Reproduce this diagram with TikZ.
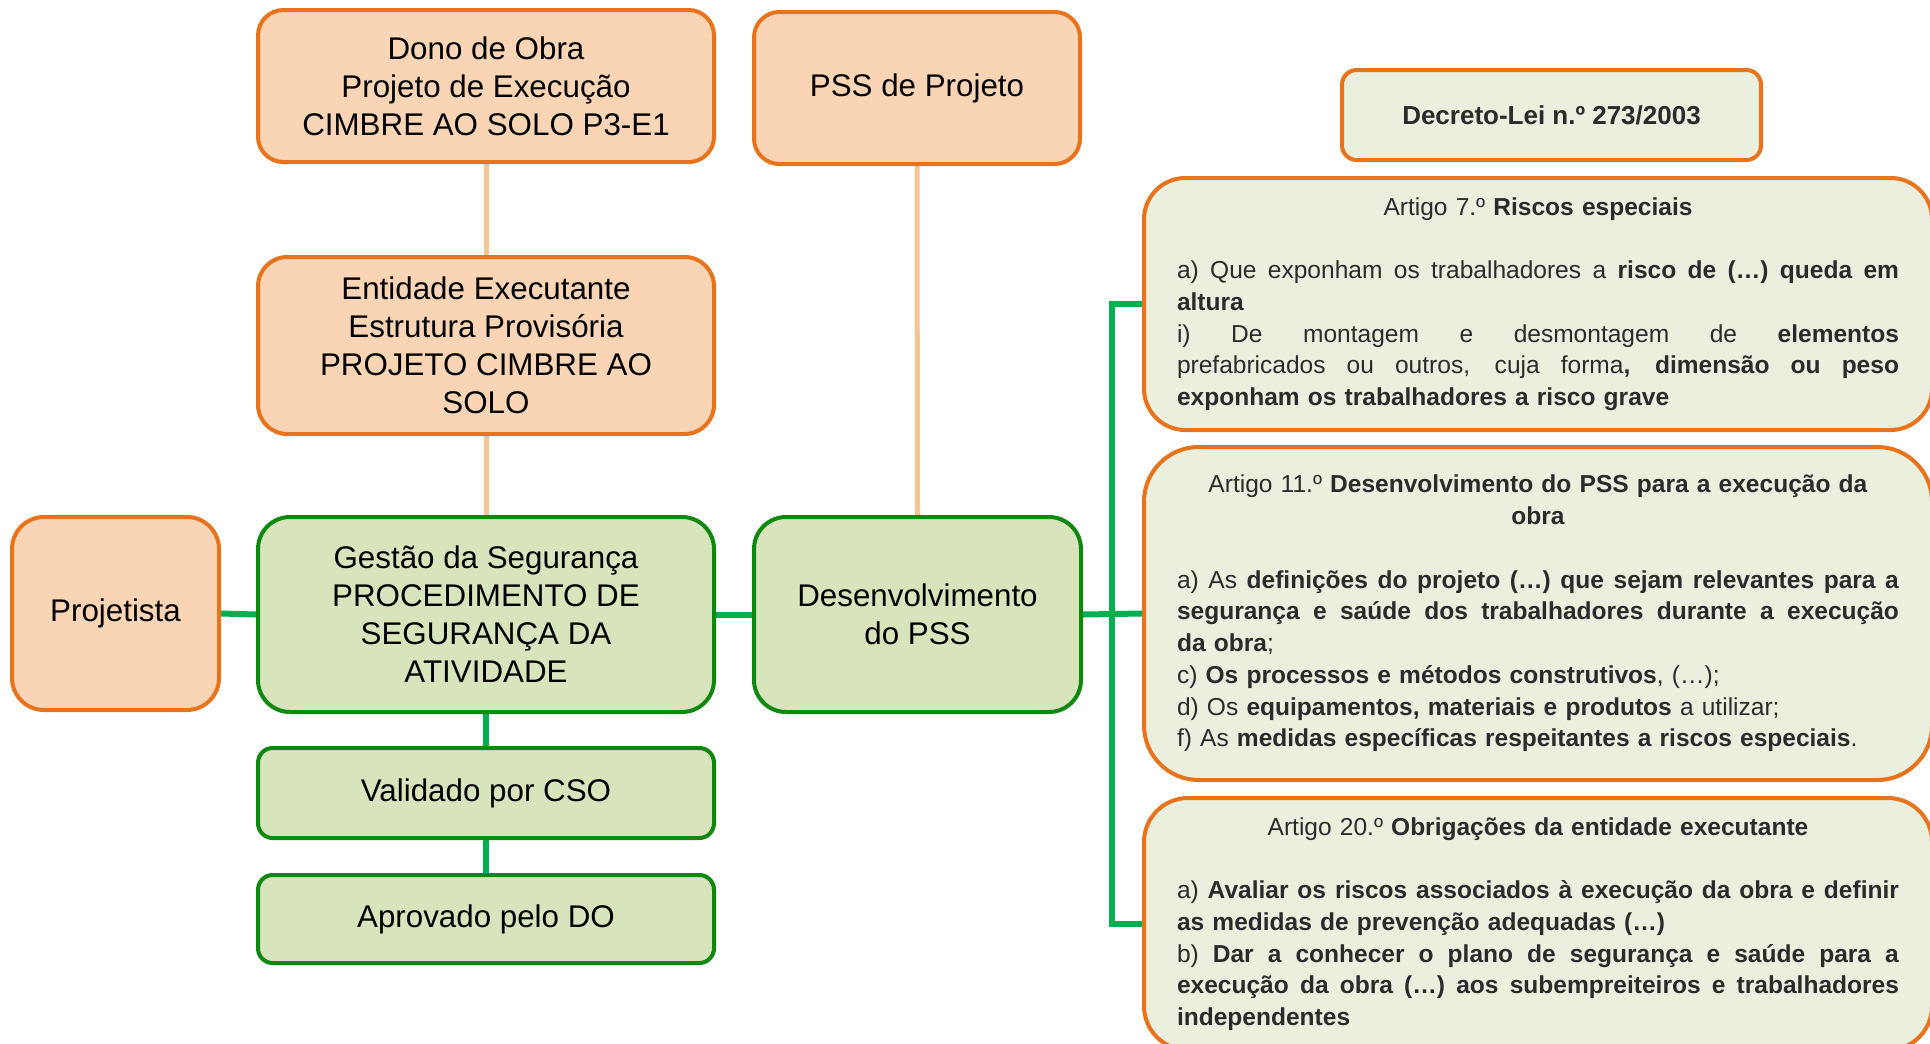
\documentclass[tikz,border=0pt]{standalone}
\usepackage{fontspec}
\setmainfont{Liberation Sans}
\usetikzlibrary{backgrounds}
\newlength\artw
\setlength\artw{541.5pt}
\newcommand\jfull[1]{\leavevmode\hbox to\artw{\spaceskip=0.28em plus 1fil\xspaceskip=0.28em plus 1fil\relax #1}}
\newcommand\cfull[1]{\leavevmode\hbox to\artw{\hfil #1\hfil}}
\definecolor{peach}{HTML}{FAD5B5}
\definecolor{orangeline}{HTML}{E8731A}
\definecolor{oconn}{HTML}{F9C495}
\definecolor{gfill}{HTML}{D8E4BC}
\definecolor{gborder}{HTML}{0E880E}
\definecolor{gconn}{HTML}{00B050}
\definecolor{afill}{HTML}{EBF0DE}
\definecolor{atext}{HTML}{2B2B2B}
\tikzset{
  mainfont/.style={font=\fontsize{23.5pt}{28.5pt}\selectfont, align=center, text=black},
  peachbox/.style={mainfont, draw=orangeline, fill=peach, line width=3pt, inner sep=0pt},
  greenbox/.style={mainfont, draw=gborder, fill=gfill, line width=3pt, inner sep=0pt},
  artbox/.style={draw=orangeline, fill=afill, line width=3pt, text width=\artw, inner xsep=24.75pt,
    align=left, text=atext, font=\fontsize{18.4pt}{23.8pt}\selectfont},
  oline/.style={draw=oconn, line width=3.75pt},
  gline/.style={draw=gconn, line width=4.5pt},
}
\begin{document}
\begin{tikzpicture}[x=0.75pt,y=-0.75pt]
\clip (0,0) rectangle (1930,1043);

\node[peachbox, minimum width=342pt, minimum height=114pt, rounded corners=19pt] (dono) at (486,86)
  {Dono de Obra\\Projeto de Execução\\CIMBRE AO SOLO P3-E1};
\node[peachbox, minimum width=244.5pt, minimum height=114pt, rounded corners=19pt] (pssproj) at (917,88)
  {PSS de Projeto};
\node[peachbox, minimum width=342pt, minimum height=132.75pt, rounded corners=22pt] (entidade) at (486,345.5)
  {Entidade Executante\\Estrutura Provisória\\PROJETO CIMBRE AO\\SOLO};
\node[peachbox, minimum width=155.25pt, minimum height=144.75pt, rounded corners=24pt] (projetista) at (115.5,613.5)
  {Projetista};
\node[greenbox, minimum width=342pt, minimum height=146.25pt, rounded corners=24pt] (gestao) at (486,614.5)
  {Gestão da Segurança\\PROCEDIMENTO DE\\SEGURANÇA DA\\ATIVIDADE};
\node[greenbox, minimum width=245.25pt, minimum height=146.25pt, rounded corners=24pt] (desenv) at (917.5,614.5)
  {Desenvolvimento\\do PSS};
\node[greenbox, minimum width=342pt, minimum height=67.5pt, rounded corners=11pt] (validado) at (486,793)
  {Validado por CSO};
\node[greenbox, minimum width=342pt, minimum height=66pt, rounded corners=11pt] (aprovado) at (486,919)
  {Aprovado pelo DO};

\node[draw=orangeline, fill=afill, line width=3pt, rounded corners=11pt, minimum width=314.25pt,
  minimum height=67.5pt, text=atext, font=\fontsize{19.5pt}{23.8pt}\selectfont\bfseries] (decreto) at (1551.5,115)
  {Decreto-Lei n.º 273/2003};

\node[artbox, minimum height=189pt, rounded corners=31pt] (art7) at (1538,304)
  {\cfull{Artigo 7.º \textbf{Riscos especiais}}\\[23.8pt]
   \jfull{a) Que exponham os trabalhadores a \textbf{risco de (…) queda em}}\\
   \textbf{altura}\\
   \jfull{i) De montagem e desmontagem de \textbf{elementos}}\\
   \jfull{prefabricados ou outros, cuja forma\textbf{, dimensão ou peso}}\\
   \textbf{exponham os trabalhadores a risco grave}};

\node[artbox, minimum height=249.75pt, rounded corners=41pt] (art11) at (1538,613.5)
  {\cfull{Artigo 11.º \textbf{Desenvolvimento do PSS para a execução da}}\\
   \cfull{\textbf{obra}}\\[23.8pt]
   \jfull{a) As \textbf{definições do projeto (…) que sejam relevantes para a}}\\
   \jfull{\textbf{segurança e saúde dos trabalhadores durante a execução}}\\
   \textbf{da obra};\\
   c) \textbf{Os processos e métodos construtivos}, (…);\\
   d) Os \textbf{equipamentos, materiais e produtos} a utilizar;\\
   f) As \textbf{medidas específicas respeitantes a riscos especiais}.};

\node[artbox, minimum height=189pt, rounded corners=33pt] (art20) at (1538,924)
  {\cfull{Artigo 20.º \textbf{Obrigações da entidade executante}}\\[23.8pt]
   \jfull{a) \textbf{Avaliar os riscos associados à execução da obra e definir}}\\
   \textbf{as medidas de prevenção adequadas (…)}\\
   \jfull{b) \textbf{Dar a conhecer o plano de segurança e saúde para a}}\\
   \jfull{\textbf{execução da obra (…) aos subempreiteiros e trabalhadores}}\\
   \textbf{independentes}};

\coordinate (spine) at (1112,614.5);

\begin{scope}[on background layer]
\fill[white] (0,0) rectangle (1930,1043);
\draw[oline] (dono.south) -- (entidade.north);
\draw[oline] (entidade.south) -- (gestao.north);
\draw[oline] (pssproj.south) -- (desenv.north);
\draw[gline] (projetista.east) -- (gestao.west);
\draw[gline] (gestao.east) -- (desenv.west);
\draw[gline] (gestao.south) -- (validado.north);
\draw[gline] (validado.south) -- (aprovado.north);
\draw[gline] (desenv.east) -- (art11.west);
\draw[gline] (art7.west) -| (spine) |- (art20.west);
\end{scope}
\end{tikzpicture}
\end{document}
